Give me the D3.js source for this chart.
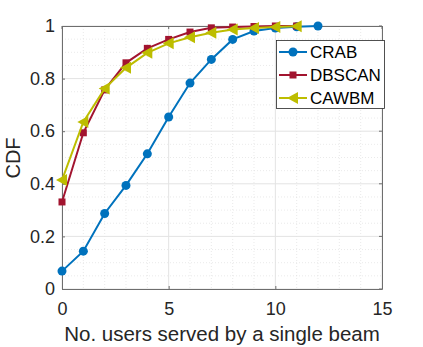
<!DOCTYPE html>
<html><head><meta charset="utf-8">
<script src="https://cdn.jsdelivr.net/npm/d3@7"></script>
<style>body{margin:0;background:#fff}svg{display:block}text{font-family:"Liberation Sans",Arial,sans-serif}</style>
</head><body><svg id="c" width="423" height="347"></svg>
<script>
const xTicks = [0, 5, 10, 15];
const yTicks = [0, 0.2, 0.4, 0.6, 0.8, 1];
const yTickLabels = ["0", "0.2", "0.4", "0.6", "0.8", "1"];
const crabX = [0,1,2,3,4,5,6,7,8,9,10,11,12];
const crabY = [0.068,0.144,0.287,0.394,0.514,0.654,0.783,0.873,0.949,0.981,0.992,0.997,1.0];
const dbscanX = [0,1,2,3,4,5,6,7,8,9,10,11];
const dbscanY = [0.331,0.594,0.757,0.860,0.915,0.949,0.977,0.993,0.996,0.998,1.0,1.0];
const cawbmX = [0,1,2,3,4,5,6,7,8,9,10,11];
const cawbmY = [0.414,0.635,0.762,0.841,0.898,0.934,0.957,0.974,0.987,0.992,0.996,0.999];
const seriesNames = ["CRAB","DBSCAN","CAWBM"];
const colors = ["#0072BD","#A2142F","#BDBD00"];

const svg = d3.select("#c");
const L=62, R=382, T=26, B=289;
const x = d3.scaleLinear().domain([0,15]).range([L,R]);
const y = d3.scaleLinear().domain([0,1]).range([B,T]);

// minor grid
const g = svg.append("g");
d3.range(0,15.01,1).forEach(v=>{ if(v%5) g.append("line").attr("x1",x(v)).attr("x2",x(v)).attr("y1",T).attr("y2",B).attr("stroke","#dcdcdc").attr("stroke-width",0.6).attr("stroke-dasharray","1,2");});
d3.range(0,1.001,0.05).forEach(v=>{ const r=Math.round(v*100); if(r%20) g.append("line").attr("y1",y(v)).attr("y2",y(v)).attr("x1",L).attr("x2",R).attr("stroke","#dcdcdc").attr("stroke-width",0.6).attr("stroke-dasharray","1,2");});
// major grid
xTicks.forEach(v=>g.append("line").attr("x1",x(v)).attr("x2",x(v)).attr("y1",T).attr("y2",B).attr("stroke","#e3e3e3").attr("stroke-width",1));
yTicks.forEach(v=>g.append("line").attr("y1",y(v)).attr("y2",y(v)).attr("x1",L).attr("x2",R).attr("stroke","#e3e3e3").attr("stroke-width",1));

// axes
const ax = svg.append("g").attr("transform",`translate(0,${B})`)
  .call(d3.axisBottom(x).tickValues(xTicks).tickSize(-3).tickPadding(13).tickFormat(d3.format("d")));
const ay = svg.append("g").attr("transform",`translate(${L},0)`)
  .call(d3.axisLeft(y).tickValues(yTicks).tickSize(-3).tickPadding(7).tickFormat((d,i)=>yTickLabels[i]));
[ax,ay].forEach(a=>{a.select(".domain").attr("stroke","#6e6e6e");a.selectAll(".tick line").attr("stroke","#6e6e6e");a.selectAll("text").attr("font-size",18).attr("fill","#262626").attr("font-family","Liberation Sans, Arial, sans-serif");});
// box top/right
svg.append("line").attr("x1",L).attr("x2",R).attr("y1",T+0.5).attr("y2",T+0.5).attr("stroke","#6e6e6e");
svg.append("line").attr("x1",R+0.5).attr("x2",R+0.5).attr("y1",T).attr("y2",B).attr("stroke","#6e6e6e");
xTicks.forEach(v=>svg.append("line").attr("x1",x(v)).attr("x2",x(v)).attr("y1",T).attr("y2",T+3).attr("stroke","#6e6e6e"));
yTicks.forEach(v=>svg.append("line").attr("x1",R).attr("x2",R-3).attr("y1",y(v)).attr("y2",y(v)).attr("stroke","#6e6e6e"));

// labels
svg.append("text").attr("x",222).attr("y",341).attr("text-anchor","middle").attr("font-size",20.5).attr("fill","#262626").text("No. users served by a single beam");
svg.append("text").attr("transform",`translate(20,158) rotate(-90)`).attr("text-anchor","middle").attr("font-size",20).attr("fill","#262626").text("CDF");

const line = d3.line().x(d=>x(d[0])).y(d=>y(d[1]));
const data = [d3.zip(crabX,crabY), d3.zip(dbscanX,dbscanY), d3.zip(cawbmX,cawbmY)];
function marker(sel, i, px, py){
  if(i===0) sel.append("circle").attr("cx",px).attr("cy",py).attr("r",4.5).attr("fill",colors[0]);
  else if(i===1) sel.append("rect").attr("x",px-3.5).attr("y",py-3.5).attr("width",7).attr("height",7).attr("fill",colors[1]);
  else sel.append("path").attr("d",`M${px-6},${py} L${px+5},${py-6} L${px+5},${py+6} Z`).attr("fill",colors[2]);
}
const plot = svg.append("g");
data.forEach((d,i)=>{
  plot.append("path").datum(d).attr("d",line).attr("fill","none").attr("stroke",colors[i]).attr("stroke-width",2);
  d.forEach(p=>marker(plot,i,x(p[0]),y(p[1])));
});

// legend
const lg = svg.append("g");
lg.append("rect").attr("x",276.5).attr("y",40.5).attr("width",108).attr("height",68).attr("fill","#fff").attr("stroke","#262626").attr("stroke-width",0.8);
seriesNames.forEach((n,i)=>{
  const yy = 52 + i*23;
  lg.append("line").attr("x1",279).attr("x2",307).attr("y1",yy).attr("y2",yy).attr("stroke",colors[i]).attr("stroke-width",2);
  marker(lg,i,293,yy);
  lg.append("text").attr("x",310).attr("y",yy+6).attr("font-size",17).attr("fill","#000").text(n);
});
</script></body></html>
